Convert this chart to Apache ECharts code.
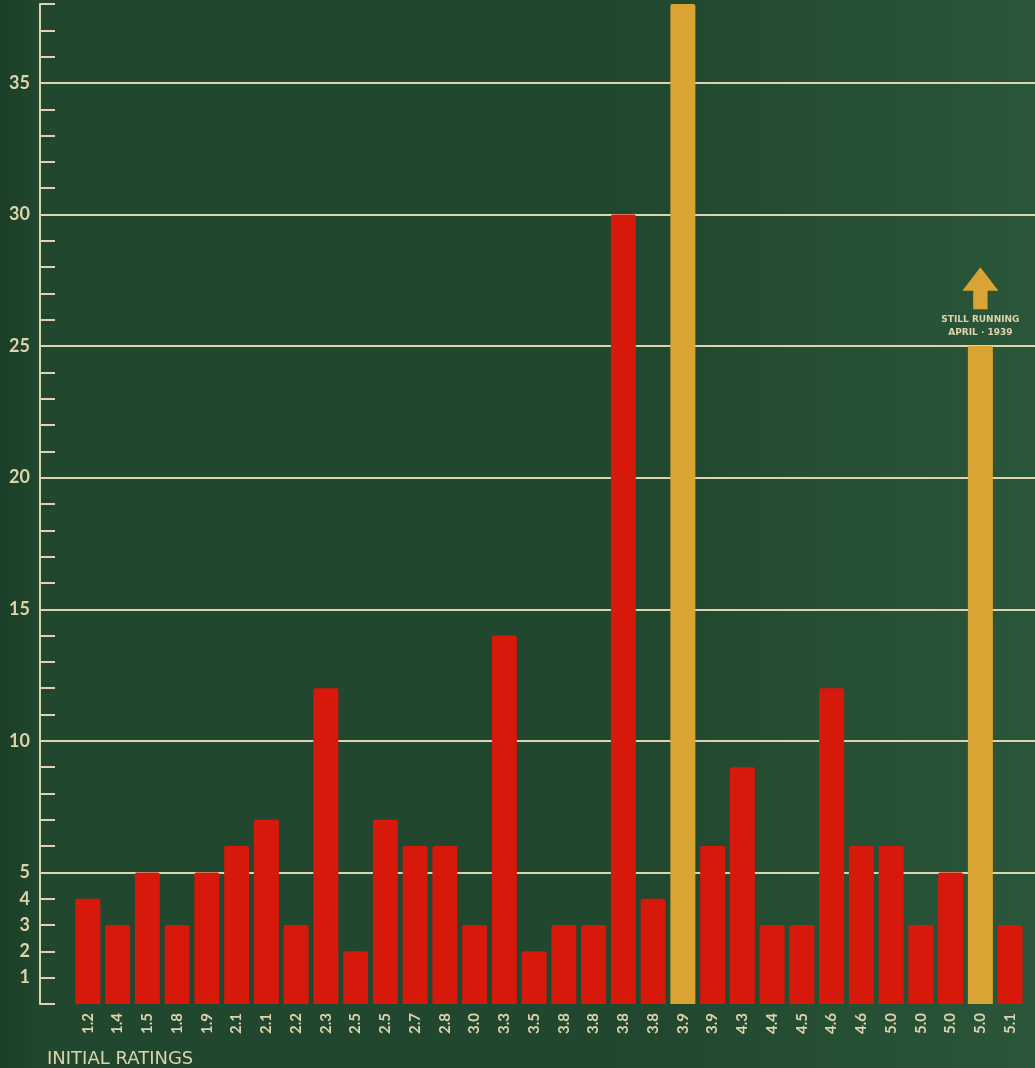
<!DOCTYPE html>
<html>
<head>
<meta charset="utf-8">
<script src="https://cdn.jsdelivr.net/npm/echarts@6/dist/echarts.min.js"></script>
<style>
  html, body { margin: 0; padding: 0; background: #21472e; }
  #chart { width: 1035px; height: 1068px; }
</style>
</head>
<body>
<div id="chart"></div>
<script>
// initial ratings (x categories)
const ratings = ['1.2', '1.4', '1.5', '1.8', '1.9', '2.1', '2.1', '2.2', '2.3', '2.5', '2.5', '2.7', '2.8', '3.0', '3.3', '3.5',
  '3.8', '3.8', '3.8', '3.8', '3.9', '3.9', '4.3', '4.4', '4.5', '4.6', '4.6', '5.0', '5.0', '5.0', '5.0', '5.1'];
// length of run for each programme
const runs = [4, 3, 5, 3, 5, 6, 7, 3, 12, 2, 7, 6, 6, 3, 14, 2, 3, 3, 30, 4, 38, 6, 9, 3, 3, 12, 6, 6, 3, 5, 25, 3];
// programmes still on the air
const stillRunning = [20, 30];
// the arrow sits above this bar
const arrowBar = 30;
const arrowValue = 27.2;
// y tick labels that are printed
const yLabels = [1, 2, 3, 4, 5, 10, 15, 20, 25, 30, 35];

const chalk = '#ddd3ac';
const red = '#d6190b';
const gold = '#d9a434';

const chart = echarts.init(document.getElementById('chart'));

chart.setOption({
  backgroundColor: {
    type: 'linear', x: 0, y: 0, x2: 1, y2: 0,
    colorStops: [
      { offset: 0, color: '#1b3e26' },
      { offset: 0.04, color: '#21482e' },
      { offset: 0.6, color: '#21472e' },
      { offset: 1, color: '#2a5639' }
    ]
  },
  title: {
    text: 'INITIAL RATINGS',
    left: 42,
    top: 1045,
    textStyle: { color: chalk, fontSize: 18, fontWeight: 'normal', fontFamily: 'DejaVu Sans' }
  },
  grid: [
    { left: 40, right: 0, top: 4, bottom: 64 },
    { left: 73, right: 10, top: 4, bottom: 64 }
  ],
  xAxis: [
    { gridIndex: 0, type: 'value', min: 0, max: 1, show: false },
    {
      gridIndex: 1,
      type: 'category',
      data: ratings,
      axisLine: { show: false },
      axisTick: { show: false },
      axisLabel: { rotate: 90, margin: 9, color: chalk, fontSize: 15, fontFamily: 'Lato', fontWeight: 'bold' }
    }
  ],
  yAxis: [
    {
      gridIndex: 0,
      type: 'value',
      min: 0,
      max: 38,
      interval: 1,
      axisLine: { show: true, lineStyle: { color: chalk, width: 2 } },
      axisTick: { show: true, inside: true, length: 15, lineStyle: { color: chalk, width: 2 } },
      axisLabel: {
        margin: 10,
        color: chalk,
        fontSize: 18,
        fontFamily: 'Lato',
        fontWeight: 'bold',
        formatter: v => (yLabels.indexOf(v) >= 0 ? String(v) : '')
      },
      splitLine: { show: false }
    },
    {
      gridIndex: 0,
      type: 'value',
      min: 0,
      max: 38,
      interval: 5,
      position: 'left',
      axisLine: { show: false },
      axisTick: { show: false },
      axisLabel: { show: false },
      splitLine: { show: true, showMinLine: false, showMaxLine: false, lineStyle: { color: chalk, width: 2 } }
    },
    { gridIndex: 1, type: 'value', min: 0, max: 38, show: false }
  ],
  series: [
    {
      type: 'bar',
      xAxisIndex: 1,
      yAxisIndex: 2,
      barCategoryGap: '16%',
      data: runs.map((v, i) => {
        const item = { value: v, itemStyle: { color: stillRunning.indexOf(i) >= 0 ? gold : red } };
        if (i === arrowBar) {
          item.label = {
            show: true,
            position: 'top',
            distance: 7,
            formatter: 'STILL RUNNING\nAPRIL · 1939',
            color: chalk,
            fontSize: 9,
            fontWeight: 'bold',
            fontFamily: 'DejaVu Sans',
            lineHeight: 13
          };
        }
        return item;
      }),
      itemStyle: { borderRadius: [2, 2, 0, 0] }
    },
    {
      type: 'scatter',
      xAxisIndex: 1,
      yAxisIndex: 2,
      symbol: 'path://M50,0 L100,56 L70,56 L70,100 L30,100 L30,56 L0,56 Z',
      symbolSize: [36, 42],
      itemStyle: { color: gold, opacity: 1 },
      data: [[arrowBar, arrowValue]]
    }
  ]
});
</script>
</body>
</html>
